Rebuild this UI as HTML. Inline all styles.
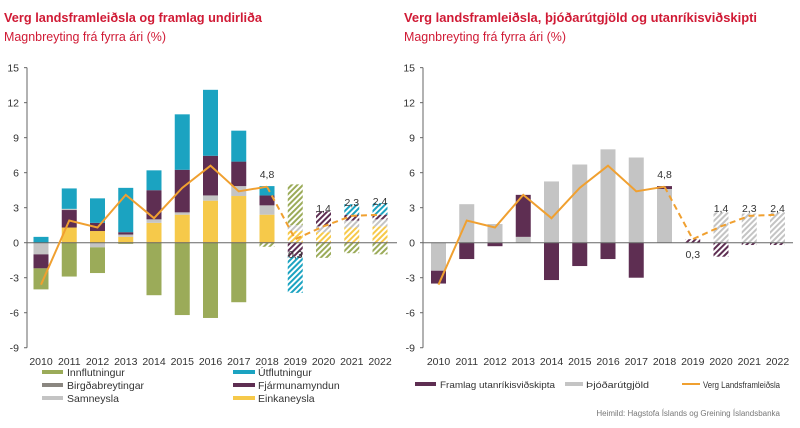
<!DOCTYPE html>
<html><head><meta charset="utf-8"><style>
html,body{margin:0;padding:0;background:#fff;}
body{width:800px;height:423px;overflow:hidden;font-family:"Liberation Sans",sans-serif;}
svg text{font-family:"Liberation Sans",sans-serif;}
</style></head><body>
<svg id="s" width="800" height="423" xmlns="http://www.w3.org/2000/svg">
<defs>
<pattern id="h-y" width="4" height="4" patternUnits="userSpaceOnUse" patternTransform="rotate(45)"><rect width="4" height="4" fill="#fff"/><rect width="2" height="4" fill="#f6c94a"/></pattern>
<pattern id="h-g" width="4" height="4" patternUnits="userSpaceOnUse" patternTransform="rotate(45)"><rect width="4" height="4" fill="#fff"/><rect width="2" height="4" fill="#c4c4c4"/></pattern>
<pattern id="h-p" width="4" height="4" patternUnits="userSpaceOnUse" patternTransform="rotate(45)"><rect width="4" height="4" fill="#fff"/><rect width="2" height="4" fill="#5e2e52"/></pattern>
<pattern id="h-t" width="4" height="4" patternUnits="userSpaceOnUse" patternTransform="rotate(45)"><rect width="4" height="4" fill="#fff"/><rect width="2" height="4" fill="#1ba3c1"/></pattern>
<pattern id="h-o" width="4" height="4" patternUnits="userSpaceOnUse" patternTransform="rotate(45)"><rect width="4" height="4" fill="#fff"/><rect width="2" height="4" fill="#9bab59"/></pattern>
</defs>
<text x="4" y="22" font-size="13" font-weight="bold" fill="#d01a35" textLength="258" lengthAdjust="spacingAndGlyphs">Verg landsframleiðsla og framlag undirliða</text>
<text x="4" y="41" font-size="12.5" fill="#d01a35" textLength="162" lengthAdjust="spacingAndGlyphs">Magnbreyting frá fyrra ári (%)</text>
<text x="404" y="22" font-size="13" font-weight="bold" fill="#d01a35" textLength="353" lengthAdjust="spacingAndGlyphs">Verg landsframleiðsla, þjóðarútgjöld og utanríkisviðskipti</text>
<text x="404" y="41" font-size="12.5" fill="#d01a35" textLength="162" lengthAdjust="spacingAndGlyphs">Magnbreyting frá fyrra ári (%)</text>
<g id="g"></g>
<g font-size="10.5" fill="#333">
<rect x="42" y="370" width="21" height="4" fill="#9bab59"/><text x="67" y="376">Innflutningur</text>
<rect x="42" y="383" width="21" height="4" fill="#8a8680"/><text x="67" y="389">Birgðabreytingar</text>
<rect x="42" y="396" width="21" height="4" fill="#c4c4c4"/><text x="67" y="402">Samneysla</text>
<rect x="233" y="370" width="22" height="4" fill="#1ba3c1"/><text x="258" y="376">Útflutningur</text>
<rect x="233" y="383" width="22" height="4" fill="#5e2e52"/><text x="258" y="389">Fjármunamyndun</text>
<rect x="233" y="396" width="22" height="4" fill="#f6c94a"/><text x="258" y="402">Einkaneysla</text>
</g>
<g font-size="9.5" fill="#333">
<rect x="415" y="382" width="21" height="4" fill="#5e2e52"/><text x="440" y="388" textLength="115" lengthAdjust="spacingAndGlyphs">Framlag utanríkisviðskipta</text>
<rect x="565" y="382" width="18" height="4" fill="#c4c4c4"/><text x="586" y="388" textLength="63" lengthAdjust="spacingAndGlyphs">Þjóðarútgjöld</text>
<rect x="682" y="383" width="18" height="2" fill="#f0a030"/><text x="703" y="388" textLength="77" lengthAdjust="spacingAndGlyphs">Verg Landsframleiðsla</text>
</g>
<text x="780" y="416" font-size="8" fill="#777" text-anchor="end">Heimild: Hagstofa Íslands og Greining Íslandsbanka</text>
</svg>
<script>
var g=document.getElementById('g'),NS='http://www.w3.org/2000/svg';
function el(t,a,txt){var e=document.createElementNS(NS,t);for(var k in a)e.setAttribute(k,a[k]);if(txt!=null)e.textContent=txt;g.appendChild(e);return e;}
function Y(v){return 242.7-v*11.67;}
var C={y:'#f6c94a',g:'#c4c4c4',b:'#8a8680',p:'#5e2e52',t:'#1ba3c1',o:'#9bab59'};
function chart(ax,x0,bars,line,labels){
  for(var v=-9;v<=15;v+=3){el('text',{x:ax-8,y:Y(v)+4,'font-size':10.5,fill:'#333','text-anchor':'end'},v);
    el('line',{x1:ax-3,x2:ax,y1:Y(v),y2:Y(v),stroke:'#666','stroke-width':1});}
  el('line',{x1:ax,x2:ax,y1:Y(15),y2:Y(-9),stroke:'#666','stroke-width':1});
  for(var i=0;i<13;i++){var cx=x0+i*28.25;
    el('text',{x:cx,y:365,'font-size':10.5,fill:'#333','text-anchor':'middle'},2010+i);
    var b=bars[i];for(var j=0;j<b.length;j++){var s=b[j];var a=Math.min(s[1],s[2]),c=Math.max(s[1],s[2]);
      var f=i>=9||(s[3])?'url(#h-'+s[0]+')':C[s[0]];
      el('rect',{x:cx-7.5,y:Y(c),width:15,height:(c-a)*11.67,fill:f});}}
  el('line',{x1:ax,x2:ax+370,y1:Y(0),y2:Y(0),stroke:'#666','stroke-width':1});
  var p='';for(var i=0;i<=8;i++)p+=(i?'L':'M')+(x0+i*28.25)+' '+Y(line[i]);
  el('path',{d:p,fill:'none',stroke:'#f0a030','stroke-width':2});
  p='';for(var i=8;i<13;i++)p+=(i>8?'L':'M')+(x0+i*28.25)+' '+Y(line[i]);
  el('path',{d:p,fill:'none',stroke:'#f0a030','stroke-width':2,'stroke-dasharray':'6,4'});
  labels.forEach(function(l){el('text',{x:x0+l[0]*28.25,y:l[2],'font-size':10.5,fill:'#333','text-anchor':'middle'},l[1]);});
}
var line=[-3.6,1.9,1.3,4.1,2.1,4.7,6.6,4.4,4.8,0.3,1.4,2.3,2.4];
chart(27,41,[
 [['t',0,0.5],['g',0,-1],['p',-1,-2.2],['o',-2.2,-4]],
 [['y',0,1.3],['p',1.3,2.8],['g',2.8,2.9],['t',2.9,4.65],['o',0,-2.9]],
 [['y',0,1.0],['p',1.0,1.7],['t',1.7,3.8],['g',0,-0.4],['o',-0.4,-2.6]],
 [['y',0,0.5],['g',0.5,0.7],['p',0.7,0.9],['t',0.9,4.7],['o',0,-0.1]],
 [['y',0,1.7],['g',1.7,2.0],['p',2.0,4.5],['t',4.5,6.2],['o',0,-4.5]],
 [['y',0,2.4],['g',2.4,2.6],['p',2.6,6.25],['t',6.25,11.0],['o',0,-6.2]],
 [['y',0,3.6],['g',3.6,4.05],['p',4.05,7.45],['t',7.45,13.1],['o',0,-6.45]],
 [['y',0,4.0],['g',4.0,4.85],['p',4.85,6.95],['t',6.95,9.6],['o',0,-5.1]],
 [['y',0,2.4],['g',2.4,3.2],['p',3.2,4.05],['t',4.05,4.85],['o',0,-0.35,1]],
 [['y',0,1.0],['g',1.0,1.5],['o',1.5,5.0],['p',0,-1.2],['t',-1.2,-4.3]],
 [['y',0,0.9],['g',0.9,1.4],['p',1.4,2.7],['o',0,-1.3]],
 [['y',0,1.3],['g',1.3,1.9],['p',1.9,2.4],['t',2.4,3.3],['o',0,-0.9]],
 [['y',0,1.4],['g',1.4,2.0],['p',2.0,2.4],['t',2.4,3.4],['o',0,-1.0]]
],line,[[8,'4,8',178],[9,'0,3',258],[10,'1,4',212],[11,'2,3',206],[12,'2,4',205]]);
chart(423,438.5,[
 [['g',0,-2.4],['p',-2.4,-3.5]],
 [['g',0,3.3],['p',0,-1.4]],
 [['g',0,1.6],['p',0,-0.3]],
 [['g',0,0.5],['p',0.5,4.1]],
 [['g',0,5.25],['p',0,-3.2]],
 [['g',0,6.7],['p',0,-2.0]],
 [['g',0,8.0],['p',0,-1.4]],
 [['g',0,7.3],['p',0,-3.0]],
 [['g',0,4.6],['p',4.6,4.85]],
 [['p',0,0.3]],
 [['g',0,2.6],['p',0,-1.2]],
 [['g',0,2.5],['p',0,-0.2]],
 [['g',0,2.6],['p',0,-0.2]]
],line,[[8,'4,8',178],[9,'0,3',258],[10,'1,4',212],[11,'2,3',212],[12,'2,4',212]]);
</script>
</body></html>
